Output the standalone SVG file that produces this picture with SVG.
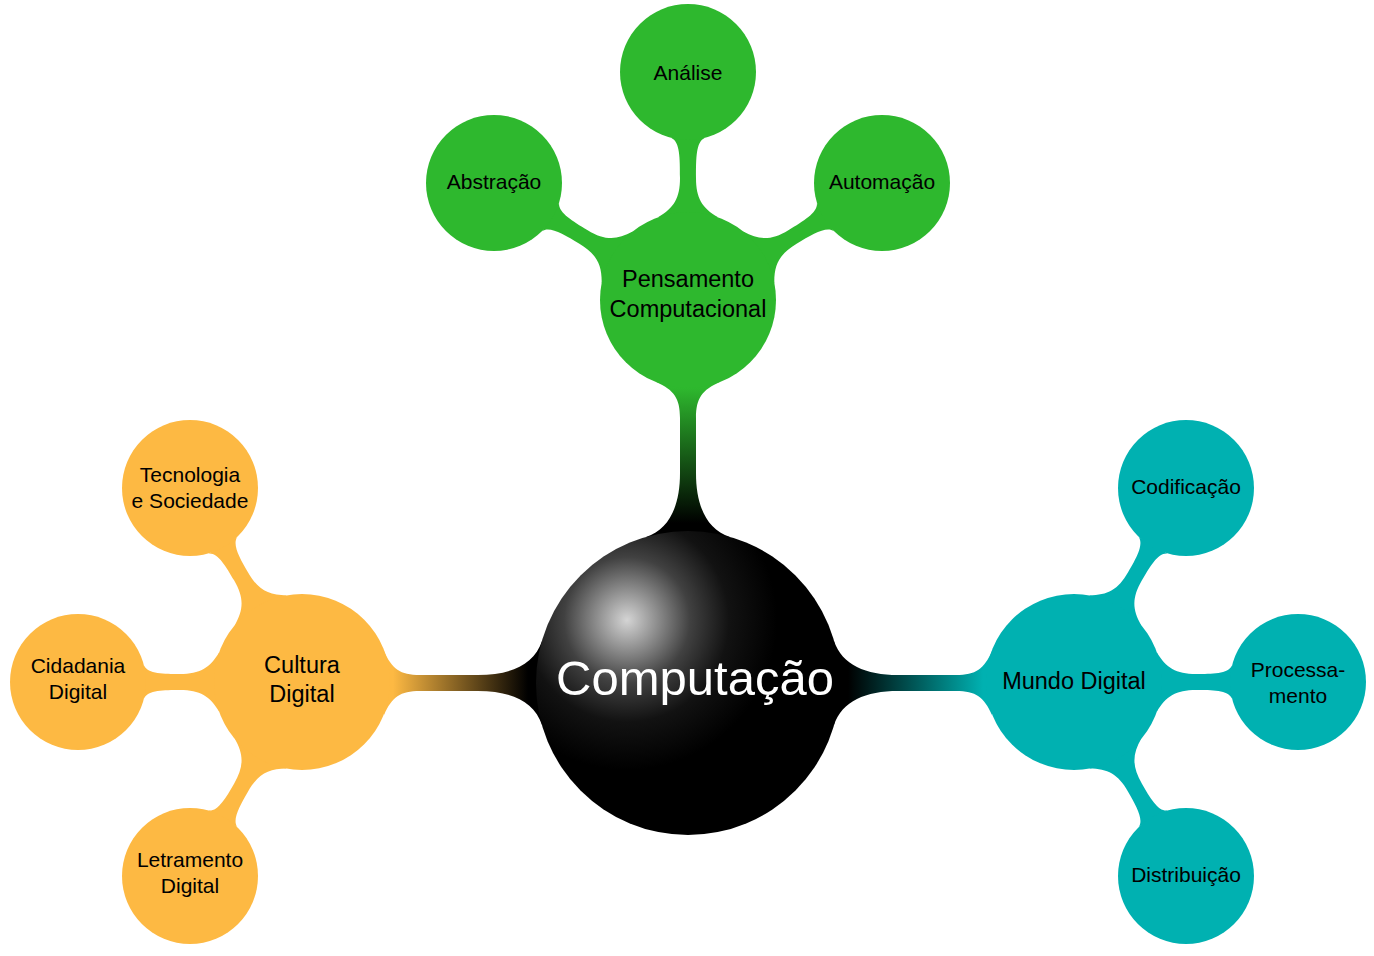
<svg xmlns="http://www.w3.org/2000/svg" width="1374" height="956" viewBox="0 0 1374 956">
<style>
.t{font-family:"Liberation Sans",Arial,sans-serif;fill:#000;text-anchor:middle}
.l1{font-size:23.5px}
.l2{font-size:21px}
.g{fill:#2EB82E}
.o{fill:#FDB943}
.c{fill:#00B1B1}
</style>
<defs>
<radialGradient id="ball" gradientUnits="userSpaceOnUse" cx="627" cy="620" r="150">
<stop offset="0" stop-color="#d4d4d4"/>
<stop offset="0.18" stop-color="#959595"/>
<stop offset="0.42" stop-color="#414141"/>
<stop offset="0.68" stop-color="#121212"/>
<stop offset="1" stop-color="#000"/>
</radialGradient>
<linearGradient id="gG" gradientUnits="userSpaceOnUse" x1="160" y1="0" x2="295" y2="0">
<stop offset="0" stop-color="#000"/><stop offset="1" stop-color="#2EB82E"/>
</linearGradient>
<linearGradient id="gO" gradientUnits="userSpaceOnUse" x1="160" y1="0" x2="295" y2="0">
<stop offset="0" stop-color="#000"/><stop offset="1" stop-color="#FDB943"/>
</linearGradient>
<linearGradient id="gC" gradientUnits="userSpaceOnUse" x1="160" y1="0" x2="295" y2="0">
<stop offset="0" stop-color="#000"/><stop offset="1" stop-color="#00B1B1"/>
</linearGradient>
</defs>
<g id="connectors">
<path fill="url(#gG)" transform="translate(688,683) rotate(-90)" d="M146,-42 C154,-18 178,-8 210,-8 L265,-8 C285,-8 293,-14 301,-32 L301,32 C293,14 285,8 265,8 L210,8 C178,8 154,18 146,42 Z"/>
<path fill="url(#gO)" transform="translate(688,683) rotate(180)" d="M146,-42 C154,-18 178,-8 210,-8 L268,-8 C288,-8 296,-14 304,-32 L304,32 C296,14 288,8 268,8 L210,8 C178,8 154,18 146,42 Z"/>
<path fill="url(#gC)" transform="translate(688,683)" d="M146,-42 C154,-18 178,-8 210,-8 L268,-8 C288,-8 296,-14 304,-32 L304,32 C296,14 288,8 268,8 L210,8 C178,8 154,18 146,42 Z"/>
<path class="g" transform="translate(688,300) rotate(-90)" d="M82.7,-30 C92,-14 102,-8 122,-8 C142,-8 158,-8 162,-16.5 L162,16.5 C158,8 142,8 122,8 C102,8 92,14 82.7,30 Z"/>
<path class="g" transform="translate(688,300) rotate(-148.9)" d="M82.7,-30 C92,-14 102,-8 122,-8 C140.5,-8 156.5,-8 160.5,-16.5 L160.5,16.5 C156.5,8 140.5,8 122,8 C102,8 92,14 82.7,30 Z"/>
<path class="g" transform="translate(688,300) rotate(-31.1)" d="M82.7,-30 C92,-14 102,-8 122,-8 C140.5,-8 156.5,-8 160.5,-16.5 L160.5,16.5 C156.5,8 140.5,8 122,8 C102,8 92,14 82.7,30 Z"/>
<path class="o" transform="translate(302,682) rotate(-120)" d="M82.7,-30 C92,-14 102,-8 122,-8 C138,-8 154,-8 158,-16.5 L158,16.5 C154,8 138,8 122,8 C102,8 92,14 82.7,30 Z"/>
<path class="o" transform="translate(302,682) rotate(180)" d="M82.7,-30 C92,-14 102,-8 122,-8 C138,-8 154,-8 158,-16.5 L158,16.5 C154,8 138,8 122,8 C102,8 92,14 82.7,30 Z"/>
<path class="o" transform="translate(302,682) rotate(120)" d="M82.7,-30 C92,-14 102,-8 122,-8 C138,-8 154,-8 158,-16.5 L158,16.5 C154,8 138,8 122,8 C102,8 92,14 82.7,30 Z"/>
<path class="c" transform="translate(1074,682) rotate(-60)" d="M82.7,-30 C92,-14 102,-8 122,-8 C138,-8 154,-8 158,-16.5 L158,16.5 C154,8 138,8 122,8 C102,8 92,14 82.7,30 Z"/>
<path class="c" transform="translate(1074,682)" d="M82.7,-30 C92,-14 102,-8 122,-8 C138,-8 154,-8 158,-16.5 L158,16.5 C154,8 138,8 122,8 C102,8 92,14 82.7,30 Z"/>
<path class="c" transform="translate(1074,682) rotate(60)" d="M82.7,-30 C92,-14 102,-8 122,-8 C138,-8 154,-8 158,-16.5 L158,16.5 C154,8 138,8 122,8 C102,8 92,14 82.7,30 Z"/>
</g>
<g id="computacao">
<circle cx="688" cy="683" r="152" fill="url(#ball)"/>
<text class="t" x="695" y="695" style="font-size:49px;fill:#fff">Computação</text>
</g>
<g id="pensamento">
<circle class="g" cx="688" cy="300" r="88"/>
<text class="t l1" x="688" y="287">Pensamento</text>
<text class="t l1" x="688" y="317">Computacional</text>
</g>
<g id="analise">
<circle class="g" cx="688" cy="72" r="68"/>
<text class="t l2" x="688" y="80">Análise</text>
</g>
<g id="abstracao">
<circle class="g" cx="494" cy="183" r="68"/>
<text class="t l2" x="494" y="189">Abstração</text>
</g>
<g id="automacao">
<circle class="g" cx="882" cy="183" r="68"/>
<text class="t l2" x="882" y="189">Automação</text>
</g>
<g id="cultura">
<circle class="o" cx="302" cy="682" r="88"/>
<text class="t l1" x="302" y="673">Cultura</text>
<text class="t l1" x="302" y="702">Digital</text>
</g>
<g id="tecnologia">
<circle class="o" cx="190" cy="488" r="68"/>
<text class="t l2" x="190" y="482">Tecnologia</text>
<text class="t l2" x="190" y="508">e Sociedade</text>
</g>
<g id="cidadania">
<circle class="o" cx="78" cy="682" r="68"/>
<text class="t l2" x="78" y="673">Cidadania</text>
<text class="t l2" x="78" y="699">Digital</text>
</g>
<g id="letramento">
<circle class="o" cx="190" cy="876" r="68"/>
<text class="t l2" x="190" y="867">Letramento</text>
<text class="t l2" x="190" y="893">Digital</text>
</g>
<g id="mundo">
<circle class="c" cx="1074" cy="682" r="88"/>
<text class="t l1" x="1074" y="689">Mundo Digital</text>
</g>
<g id="codificacao">
<circle class="c" cx="1186" cy="488" r="68"/>
<text class="t l2" x="1186" y="494">Codificação</text>
</g>
<g id="processamento">
<circle class="c" cx="1298" cy="682" r="68"/>
<text class="t l2" x="1298" y="677">Processa-</text>
<text class="t l2" x="1298" y="703">mento</text>
</g>
<g id="distribuicao">
<circle class="c" cx="1186" cy="876" r="68"/>
<text class="t l2" x="1186" y="882">Distribuição</text>
</g>
</svg>
